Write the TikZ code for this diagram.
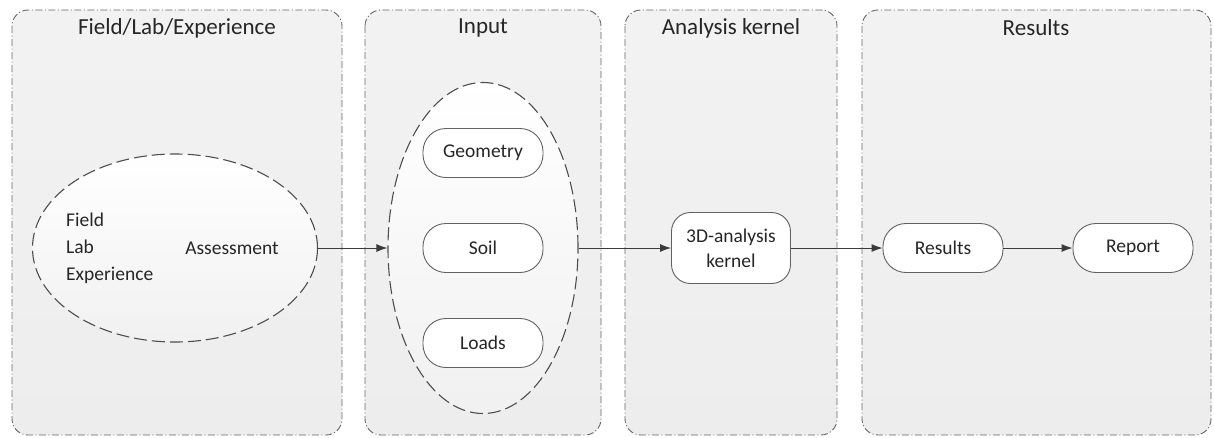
\documentclass[tikz,border=0pt]{standalone}
\usepackage{fontspec}
\setmainfont{Carlito}
\usetikzlibrary{shapes.geometric,arrows.meta}
\definecolor{panelfill}{HTML}{EDEDED}
\definecolor{panelline}{HTML}{666666}
\definecolor{txt}{HTML}{262626}
\definecolor{edge}{HTML}{3A3A3A}
\tikzset{
  panel/.style={draw=panelline, line width=0.9pt, dash pattern=on 7pt off 2.5pt on 1pt off 2.5pt,
    rounded corners=16pt, top color=panelfill!70!white, bottom color=panelfill},
  paneltitle/.style={text=txt, font=\fontsize{23}{27}\selectfont, anchor=center},
  blob/.style={ellipse, draw=edge!90, line width=1.1pt, dash pattern=on 13pt off 5pt,
    top color=white, bottom color=panelfill!80!white, inner sep=0pt},
  pill/.style={draw=edge!80, line width=0.9pt, fill=white, rounded corners=23pt,
    minimum width=120pt, minimum height=49pt, text=txt, font=\fontsize{19.5}{23}\selectfont, inner sep=0pt},
  kbox/.style={draw=edge!80, line width=0.9pt, fill=white, rounded corners=19pt,
    minimum width=119pt, minimum height=71pt, text=txt, font=\fontsize{19.5}{25}\selectfont, align=center, inner sep=0pt},
  plain/.style={text=txt, font=\fontsize{19.5}{27}\selectfont, inner sep=0pt},
  flow/.style={draw=edge, line width=1pt, -{Latex[length=11pt,width=8pt]}},
}
\begin{document}
\begin{tikzpicture}[x=1pt,y=-1pt]
\useasboundingbox (0,0) rectangle (1214,437);
\fill[white] (0,0) rectangle (1214,437);
% panels
\draw[panel] (12,10) rectangle (342,435);
\draw[panel] (365,10) rectangle (601,435);
\draw[panel] (625,10) rectangle (837,435);
\draw[panel] (862,10) rectangle (1211,435);
\node[paneltitle] (t1) at (177,28) {Field/Lab/Experience};
\node[paneltitle] (t2) at (483,28) {Input};
\node[paneltitle] (t3) at (731,28) {Analysis kernel};
\node[paneltitle] (t4) at (1036,28) {Results};
% ellipses
\node[blob, minimum width=285pt, minimum height=188pt] (assess) at (175,248) {};
\node[plain, align=left, anchor=west] (fle) at (66,248) {Field\\Lab\\Experience};
\node[plain] (asst) at (232,248) {Assessment};
\node[blob, minimum width=190pt, minimum height=331pt] (input) at (483,248) {};
\node[pill] (geo) at (483,153) {Geometry};
\node[pill] (soil) at (483,248) {Soil};
\node[pill] (loads) at (483,343) {Loads};
\node[kbox] (kernel) at (731,248) {3D-analysis\\kernel};
\node[pill] (res) at (943,248) {Results};
\node[pill] (rep) at (1133,248) {Report};
% connectors
\draw[flow] (assess.east) -- (input.west);
\draw[flow] (input.east) -- (kernel.west);
\draw[flow] (kernel.east) -- (res.west);
\draw[flow] (res.east) -- (rep.west);
\end{tikzpicture}
\end{document}
